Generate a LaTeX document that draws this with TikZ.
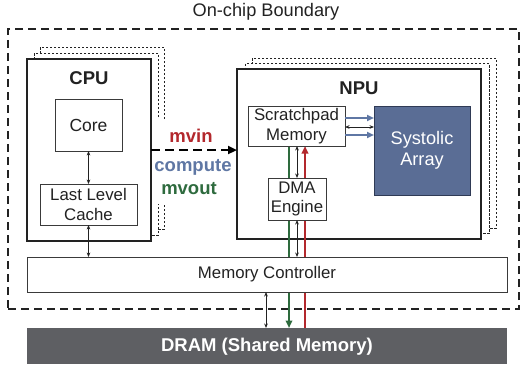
\documentclass[tikz,border=0pt]{standalone}
\usepackage{fontspec}
\setmainfont{Liberation Sans}
\usetikzlibrary{arrows.meta,calc}

\definecolor{inkdark}{HTML}{222222}
\definecolor{boxline}{HTML}{3A3A3A}
\definecolor{mvinred}{HTML}{B3282D}
\definecolor{computeblue}{HTML}{5F77A4}
\definecolor{mvoutgreen}{HTML}{2E6B3E}
\definecolor{systolicfill}{HTML}{5A6D95}
\definecolor{systolicline}{HTML}{2F3A55}
\definecolor{dramfill}{HTML}{5E5F63}

\newcommand{\txtreg}{\fontsize{16.8}{19.5}\selectfont}
\newcommand{\txtbig}{\fontsize{18.2}{21}\selectfont}
\newcommand{\txtbold}{\fontsize{18.5}{21}\selectfont\bfseries}

\pgfdeclarelayer{units}
\pgfdeclarelayer{wires}
\pgfsetlayers{units,wires,main}

\begin{document}
\begin{tikzpicture}[x=1pt, y=-1pt,
  every node/.style={inner sep=0pt, outer sep=0pt, text=inkdark},
  box/.style={draw=boxline, line width=0.9pt, fill=white, align=center, font=\txtreg},
  unit/.style={draw=inkdark, line width=1.5pt, fill=white},
  shadowbox/.style={draw=inkdark, line width=0.7pt, dash pattern=on 2.5pt off 1.5pt},
  boundary/.style={draw=inkdark, line width=1.2pt, dash pattern=on 8pt off 5pt},
  bidir/.style={{Stealth[length=4.5pt,width=3.6pt]}-{Stealth[length=4.5pt,width=3.6pt]}, line width=0.8pt, draw=inkdark},
  flow/.style={line width=2pt, -{Triangle[length=7.5pt,width=6.5pt]}},
  cmdlabel/.style={font=\txtbold}
]
\useasboundingbox (0,0) rectangle (524,364);

% on-chip boundary and its caption
\begin{pgfonlayer}{units}
  \node[boundary, minimum width=511pt, minimum height=280pt] (chip) at (263.5,169) {};
\end{pgfonlayer}
\node[font=\txtbig] (chiptitle) at (266,12) {On-chip Boundary};

% CPU and NPU units with stacked copies behind them
\begin{pgfonlayer}{units}
  \node[unit, minimum width=124pt, minimum height=182pt] (cpu) at (89,150) {};
  \node[unit, minimum width=244pt, minimum height=170pt] (npu) at (359,154) {};
  \draw[shadowbox] ([shift={(13,-12)}]cpu.north west) rectangle ([shift={(13,-12)}]cpu.south east);
  \draw[shadowbox, fill=white] ([shift={(7,-6)}]cpu.north west) rectangle ([shift={(7,-6)}]cpu.south east);
  \draw[shadowbox] ([shift={(15,-11)}]npu.north west) rectangle ([shift={(15,-11)}]npu.south east);
  \draw[shadowbox, fill=white] ([shift={(8,-5.5)}]npu.north west) rectangle ([shift={(8,-5.5)}]npu.south east);
  \node[unit, minimum width=124pt, minimum height=182pt] at (89,150) {};
  \node[unit, minimum width=244pt, minimum height=170pt] at (359,154) {};
\end{pgfonlayer}
\node[font=\txtbold] (cpulbl) at (89,78) {CPU};
\node[font=\txtbold] (npulbl) at (359,88) {NPU};

% command labels between the units
\node[fill=white, minimum width=82pt, minimum height=85pt] (cmdbg) at (194,161.5) {};
\node[cmdlabel, text=mvinred] (mvin) at (191,136) {mvin};
\node[cmdlabel, text=computeblue] (compute) at (193,167) {compute};
\node[cmdlabel, text=mvoutgreen] (mvout) at (189,189) {mvout};
\draw[line width=2.4pt, dash pattern=on 9pt off 5pt, -{Triangle[length=9pt,width=8pt]}]
  (cpu.east) -- (cpu.east -| npu.west);

% CPU internals
\node[box, minimum width=67pt, minimum height=52pt, font=\fontsize{17.5}{20}\selectfont] (core) at (88.5,125) {Core};
\node[box, minimum width=97pt, minimum height=41pt] (llc) at (88.5,204.5) {Last Level\\Cache};

% NPU internals
\node[box, minimum width=97pt, minimum height=40pt] (spm) at (296.5,126) {Scratchpad\\Memory};
\node[draw=systolicline, line width=0.9pt, fill=systolicfill, minimum width=96pt, minimum height=89pt,
      align=center, font=\txtbig, text=white] (sys) at (422,150.5) {Systolic\\Array};
\node[box, minimum width=58pt, minimum height=42pt] (dma) at (297,199) {DMA\\Engine};

% memory controller and DRAM
\node[box, minimum width=480pt, minimum height=35pt] (mc) at (267,274.5) {Memory Controller};
\node[fill=dramfill, minimum width=480pt, minimum height=36pt] (dram) at (267,346) {};
\node[font=\txtbold, text=white] (dramlbl) at (267,347) {DRAM (Shared Memory)};

% scratchpad <-> systolic array
\coordinate (sa1) at ([yshift=8pt]spm.east);
\coordinate (sa2) at ([yshift=-1pt]spm.east);
\coordinate (sa3) at ([yshift=-9pt]spm.east);
\draw[flow, draw=computeblue, -{Triangle[length=7pt,width=6pt]}] (sa1) -- (sa1 -| sys.west);
\draw[bidir] (sa2) -- (sa2 -| sys.west);
\draw[flow, draw=computeblue, {Triangle[length=7pt,width=6pt]}-] (sa3 -| sys.west) -- (sa3);

% data movement between scratchpad and DRAM
\coordinate (gtop) at ([xshift=-7.5pt]spm.south);
\coordinate (rtop) at ([xshift=8.5pt]spm.south);
\begin{pgfonlayer}{wires}
  \draw[flow, draw=mvoutgreen, fill=mvoutgreen] (gtop) -- (gtop |- dram.north);
  \draw[flow, draw=mvinred, fill=mvinred] (rtop |- dram.north) -- (rtop);
\end{pgfonlayer}

% bidirectional links
\draw[bidir] (core.south) -- (llc.north);
\draw[bidir] (llc.south) -- (llc.south |- mc.north);
\draw[bidir] (spm.south -| dma.north) -- (dma.north);
\draw[bidir] (dma.south) -- (dma.south |- mc.north);
\draw[bidir] ([xshift=-1pt]mc.south) -- ([xshift=-1pt]mc.south |- dram.north);
\end{tikzpicture}
\end{document}
